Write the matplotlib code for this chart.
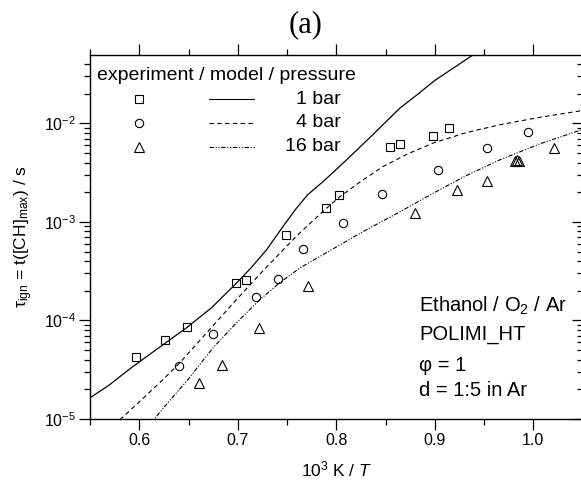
import numpy as np
import matplotlib
matplotlib.use("Agg")
import matplotlib.pyplot as plt
from matplotlib.ticker import LogLocator, MultipleLocator, NullFormatter, FixedLocator, FormatStrFormatter
from matplotlib.lines import TICKLEFT

plt.rcParams['font.family'] = ['Liberation Sans', 'DejaVu Sans']
plt.rcParams['mathtext.fontset'] = 'custom'
plt.rcParams['mathtext.rm'] = 'Liberation Sans'
plt.rcParams['mathtext.it'] = 'Liberation Sans:italic'
plt.rcParams['mathtext.bf'] = 'Liberation Sans:bold'

# ---- experimental data (1000 K / T, ignition delay in s) ----
exp_1bar_x = [0.597, 0.626, 0.648, 0.698, 0.708, 0.749, 0.790, 0.803, 0.855, 0.865, 0.898, 0.914]
exp_1bar_y = [4.3e-5, 6.4e-5, 8.6e-5, 2.37e-4, 2.6e-4, 7.3e-4, 1.38e-3, 1.88e-3, 5.8e-3, 6.15e-3, 7.35e-3, 9.05e-3]

exp_4bar_x = [0.640, 0.675, 0.719, 0.741, 0.766, 0.807, 0.846, 0.903, 0.953, 0.995]
exp_4bar_y = [3.48e-5, 7.3e-5, 1.72e-4, 2.64e-4, 5.28e-4, 9.7e-4, 1.91e-3, 3.35e-3, 5.68e-3, 8.2e-3]

exp_16bar_x = [0.661, 0.684, 0.722, 0.771, 0.880, 0.923, 0.953, 0.981, 0.984, 0.986, 1.021]
exp_16bar_y = [2.34e-5, 3.53e-5, 8.45e-5, 2.25e-4, 1.22e-3, 2.11e-3, 2.6e-3, 4.16e-3, 4.25e-3, 4.16e-3, 5.68e-3]

# ---- model (POLIMI_HT) curves ----
mod_1bar_x = [0.5492, 0.5695, 0.5929, 0.6203, 0.6478, 0.6732, 0.6986, 0.7139, 0.7292, 0.7464,
              0.7587, 0.7709, 0.7881, 0.8105, 0.8370, 0.8644, 0.8830, 0.9000, 0.9376, 0.9661]
mod_1bar_y = [1.62e-5, 2.21e-5, 3.37e-5, 5.32e-5, 8.39e-5, 1.34e-4, 2.38e-4, 3.45e-4, 5.20e-4, 9.10e-4,
              1.34e-3, 1.88e-3, 2.64e-3, 4.26e-3, 7.64e-3, 1.42e-2, 1.98e-2, 2.72e-2, 4.84e-2, 7.55e-2]

mod_4bar_x = [0.5746, 0.6000, 0.6237, 0.6407, 0.6692, 0.6983, 0.7241, 0.7492, 0.7627, 0.7881,
              0.8034, 0.8237, 0.8474, 0.8726, 0.8983, 0.9315, 0.9661, 1.0068, 1.0505]
mod_4bar_y = [8.7e-6, 1.49e-5, 2.49e-5, 3.67e-5, 7.63e-5, 1.61e-4, 3.07e-4, 5.61e-4, 7.67e-4, 1.32e-3,
              1.79e-3, 2.52e-3, 3.64e-3, 4.90e-3, 6.30e-3, 8.02e-3, 9.67e-3, 1.15e-2, 1.35e-2]

mod_16bar_x = [0.6102, 0.6153, 0.6315, 0.6491, 0.6745, 0.6986, 0.7220, 0.7424, 0.7627, 0.7932,
               0.8305, 0.8644, 0.8983, 0.9315, 0.9661, 1.0068, 1.0505]
mod_16bar_y = [8.7e-6, 1.0e-5, 1.56e-5, 2.49e-5, 5.22e-5, 9.44e-5, 1.61e-4, 2.40e-4, 3.39e-4, 5.08e-4,
               8.30e-4, 1.26e-3, 1.95e-3, 2.93e-3, 4.26e-3, 6.19e-3, 8.69e-3]

legend_labels = ['1 bar', '4 bar', '16 bar']
legend_header = 'experiment / model / pressure'
annot_lines = ['Ethanol / O$_2$ / Ar', 'POLIMI_HT', 'φ = 1', 'd = 1:5 in Ar']

W, H = 581, 486
fig = plt.figure(figsize=(W / 100, H / 100), dpi=100)
ax = fig.add_axes([90 / W, 67 / H, 492.5 / W, 364 / H])

ms_sq, ms_ci, ms_tr = 5.2, 6.0, 7.0
mew = 0.8
ax.plot(exp_1bar_x, exp_1bar_y, ls='none', marker='s', ms=ms_sq, mfc='none', mec='black', mew=mew)
ax.plot(exp_4bar_x, exp_4bar_y, ls='none', marker='o', ms=ms_ci, mfc='none', mec='black', mew=mew)
ax.plot(exp_16bar_x, exp_16bar_y, ls='none', marker='^', ms=ms_tr, mfc='none', mec='black', mew=mew)

ls1 = '-'
ls4 = (0, (4, 3))
ls16 = (0, (4, 1.5, 1, 1.5, 1, 1.5))
ax.plot(mod_1bar_x, mod_1bar_y, color='black', lw=0.9, ls=ls1)
ax.plot(mod_4bar_x, mod_4bar_y, color='black', lw=0.8, ls=ls4)
ax.plot(mod_16bar_x, mod_16bar_y, color='black', lw=0.8, ls=ls16)

ax.set_yscale('log')
ax.set_xlim(0.55, 1.05)
ax.set_ylim(1e-5, 0.0493)

ax.xaxis.set_major_locator(MultipleLocator(0.1))
ax.xaxis.set_minor_locator(MultipleLocator(0.05))
ax.xaxis.set_major_formatter(FormatStrFormatter('%.1f'))
ax.yaxis.set_major_locator(FixedLocator([1e-5, 1e-4, 1e-3, 1e-2]))
ax.yaxis.set_minor_locator(LogLocator(base=10, subs=np.arange(2, 10)))
ax.yaxis.set_minor_formatter(NullFormatter())

ax.tick_params(axis='both', which='major', length=8, width=0.9, labelsize=11.5, direction='out', pad=2)
ax.tick_params(axis='both', which='minor', length=4, width=0.9, direction='out')
ax.tick_params(axis='x', top=True, which='both')
ax.tick_params(axis='y', right=True, which='both')
for t in ax.yaxis.get_ticklines(minor=False)[1::2] + ax.yaxis.get_ticklines(minor=True)[1::2]:
    t.set_marker(TICKLEFT)
for s in ax.spines.values():
    s.set_linewidth(1.0)

ax.set_xlabel('10$^3$ K / $\\mathit{T}$', fontsize=12.5, labelpad=8)
ax.set_ylabel('τ$_{\\mathrm{ign}}$ = t([CH]$_{\\mathrm{max}}$) / s', fontsize=12.5, labelpad=6)

fig.text(306 / W, 1 - 25 / H, '(a)', fontsize=22, family='Liberation Serif', ha='center', va='center')

# legend
ax.text(0.0143, 0.945, legend_header, transform=ax.transAxes, fontsize=14, ha='left', va='center')
row_y = [0.878, 0.814, 0.748]
mk = [('s', ms_sq), ('o', ms_ci), ('^', ms_tr)]
lss = [ls1, ls4, ls16]
for i in range(3):
    ax.plot([0.1004], [row_y[i]], transform=ax.transAxes, ls='none', marker=mk[i][0], ms=mk[i][1],
            mfc='none', mec='black', mew=mew)
    ax.plot([0.2424, 0.332], [row_y[i], row_y[i]], transform=ax.transAxes, color='black', lw=0.8, ls=lss[i])
    ax.text(0.509, row_y[i], legend_labels[i], transform=ax.transAxes, fontsize=14, ha='right', va='center')

ann_y = [0.310, 0.231, 0.148, 0.077]
for t, yy in zip(annot_lines, ann_y):
    ax.text(0.668, yy, t, transform=ax.transAxes, fontsize=14.5, ha='left', va='center')

fig.savefig('out.png', dpi=100)
